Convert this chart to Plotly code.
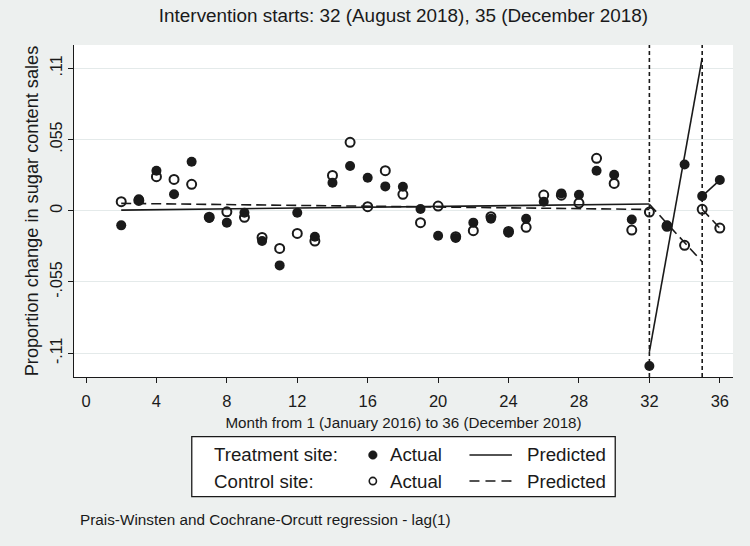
import plotly.graph_objects as go

# ---------------- data ----------------
months = list(range(2, 37))
treatment_actual = [-0.0113, 0.0088, 0.0309, 0.0127, 0.0378, -0.0056, -0.0092, -0.0015,
                    -0.0234, -0.0422, -0.0015, -0.0201, 0.0216, 0.0345, 0.0255, 0.0188,
                    0.0185, 0.0013, -0.0193, -0.0211, -0.0092, -0.0062, -0.0170, -0.0062,
                    0.0070, 0.0134, 0.0124, 0.0309, 0.0278, -0.0067, -0.1199, -0.0113,
                    0.0357, 0.0113, 0.0237]
control_actual = [0.0070, 0.0080, 0.0263, 0.0242, 0.0204, -0.0050, -0.0008, -0.0051,
                  -0.0206, -0.0291, -0.0175, -0.0234, 0.0273, 0.0528, 0.0031, 0.0309,
                  0.0127, -0.0092, 0.0036, -0.0200, -0.0154, -0.0046, -0.0160, -0.0128,
                  0.0121, 0.0120, 0.0059, 0.0405, 0.0211, -0.0149, -0.0010, -0.0120,
                  -0.0267, 0.0011, -0.0134]

# predicted segments (endpoints of each straight segment; None separates segments)
treat_pred_x = [2, 32, None, 32, 35, None, 35, 36]
treat_pred_y = [0.0005, 0.0052, None, -0.109, 0.118, None, 0.0113, 0.0237]
ctrl_pred_x = [2, 32, None, 32, 35, None, 35, 36]
ctrl_pred_y = [0.0057, 0.0010, None, 0.0050, -0.0394, None, 0.0011, -0.0134]

interventions = [32, 35]
x_ticks = list(range(0, 37, 4))
y_ticks = [-0.11, -0.055, 0, 0.055, 0.11]
y_ticktext = ["-.11", "-.055", "0", ".055", ".11"]

title_text = "Intervention starts: 32 (August 2018), 35 (December 2018)"
x_title = "Month from 1 (January 2016) to 36 (December 2018)"
y_title = "Proportion change in sugar content sales"
note_text = "Prais-Winsten and Cochrane-Orcutt regression - lag(1)"

# ---------------- style ----------------
FONT = "Liberation Sans, Arial, sans-serif"
BG = "#EDF0EF"
GRID = "#E4EAEA"
BLACK = "#1a1a1a"

fig = go.Figure()

fig.add_trace(go.Scatter(x=treat_pred_x, y=treat_pred_y, mode="lines",
                         line=dict(color=BLACK, width=1.6), connectgaps=False,
                         showlegend=False, hoverinfo="skip"))
fig.add_trace(go.Scatter(x=ctrl_pred_x, y=ctrl_pred_y, mode="lines",
                         line=dict(color=BLACK, width=1.6, dash="10px,5px"), connectgaps=False,
                         showlegend=False, hoverinfo="skip"))
fig.add_trace(go.Scatter(x=months, y=treatment_actual, mode="markers",
                         marker=dict(symbol="circle", size=10, color=BLACK,
                                     line=dict(width=0)),
                         showlegend=False, name="Treatment site: Actual"))
fig.add_trace(go.Scatter(x=months, y=control_actual, mode="markers",
                         marker=dict(symbol="circle-open", size=9, color=BLACK,
                                     line=dict(width=2, color=BLACK)),
                         showlegend=False, name="Control site: Actual"))

shapes = []
for xv in interventions:
    shapes.append(dict(type="line", xref="x", yref="paper", x0=xv, x1=xv, y0=0, y1=1,
                       line=dict(color=BLACK, width=1.6, dash="4px,3px")))

# ---------------- manual legend (paper coords) ----------------
L, R = 0.1787, 0.8213
T, B = -0.1798, -0.3605
shapes.append(dict(type="rect", xref="paper", yref="paper", x0=L, x1=R, y0=B, y1=T,
                   line=dict(color=BLACK, width=1.3), fillcolor="white", layer="above"))
row_y = [-0.2349, -0.3133]
# markers
shapes.append(dict(type="circle", xref="paper", yref="paper", xsizemode="pixel",
                   ysizemode="pixel", xanchor=0.4535, yanchor=row_y[0],
                   x0=-4.3, x1=4.3, y0=-4.3, y1=4.3, fillcolor=BLACK,
                   line=dict(color=BLACK, width=0.5), layer="above"))
shapes.append(dict(type="circle", xref="paper", yref="paper", xsizemode="pixel",
                   ysizemode="pixel", xanchor=0.4535, yanchor=row_y[1],
                   x0=-3.6, x1=3.6, y0=-3.6, y1=3.6, fillcolor="white",
                   line=dict(color=BLACK, width=1.6), layer="above"))
# line samples
shapes.append(dict(type="line", xref="paper", yref="paper", x0=0.6001, x1=0.6645,
                   y0=row_y[0], y1=row_y[0], line=dict(color=BLACK, width=1.6), layer="above"))
shapes.append(dict(type="line", xref="paper", yref="paper", x0=0.6001, x1=0.6645,
                   y0=row_y[1], y1=row_y[1], line=dict(color=BLACK, width=1.6, dash="10px,6px"),
                   layer="above"))

annotations = []
legend_rows = [("Treatment site:", "Actual", "Predicted"), ("Control site:", "Actual", "Predicted")]
for (site, a, p), ry in zip(legend_rows, row_y):
    annotations.append(dict(text=site, x=0.2090, y=ry, xref="paper", yref="paper",
                            xanchor="left", yanchor="middle", showarrow=False,
                            font=dict(family=FONT, size=18.7, color=BLACK)))
    annotations.append(dict(text=a, x=0.4772, y=ry, xref="paper", yref="paper",
                            xanchor="left", yanchor="middle", showarrow=False,
                            font=dict(family=FONT, size=18.7, color=BLACK)))
    annotations.append(dict(text=p, x=0.6847, y=ry, xref="paper", yref="paper",
                            xanchor="left", yanchor="middle", showarrow=False,
                            font=dict(family=FONT, size=18.7, color=BLACK)))

annotations.append(dict(text=note_text, x=0.006, y=-0.4307, xref="paper", yref="paper",
                        xanchor="left", yanchor="middle", showarrow=False,
                        font=dict(family=FONT, size=15.3, color=BLACK)))

fig.update_layout(
    width=750, height=546,
    margin=dict(l=74, r=17.3, t=45, b=169),
    paper_bgcolor=BG, plot_bgcolor="white",
    font=dict(family=FONT, color=BLACK),
    title=dict(text=title_text, x=0.5, xref="paper", y=1 - 15 / 546, yref="container",
               xanchor="center", yanchor="middle",
               font=dict(family=FONT, size=18.9, color=BLACK)),
    shapes=shapes, annotations=annotations,
    xaxis=dict(range=[-0.682, 36.75], tickvals=x_ticks, ticks="outside", ticklen=5,
               tickwidth=1.2, tickcolor=BLACK, showline=True, linecolor=BLACK, linewidth=1.2,
               showgrid=False, zeroline=False, tickfont=dict(size=16.5, family=FONT),
               ticklabelstandoff=4,
               title=dict(text=x_title, font=dict(size=15.2, family=FONT), standoff=8)),
    yaxis=dict(range=[-0.1284, 0.128], tickvals=y_ticks, ticktext=y_ticktext, tickangle=-90,
               ticks="outside", ticklen=5, tickwidth=1.2, tickcolor=BLACK, showline=True,
               linecolor=BLACK, linewidth=1.2, showgrid=True, gridcolor=GRID, gridwidth=1,
               zeroline=False, tickfont=dict(size=16, family=FONT),
               title=dict(text=y_title, font=dict(size=18.2, family=FONT), standoff=4)),
)

fig.write_html("out.html", config={"displayModeBar": False},
               post_script="document.body.style.margin='0px';document.body.style.background='%s';" % BG)
